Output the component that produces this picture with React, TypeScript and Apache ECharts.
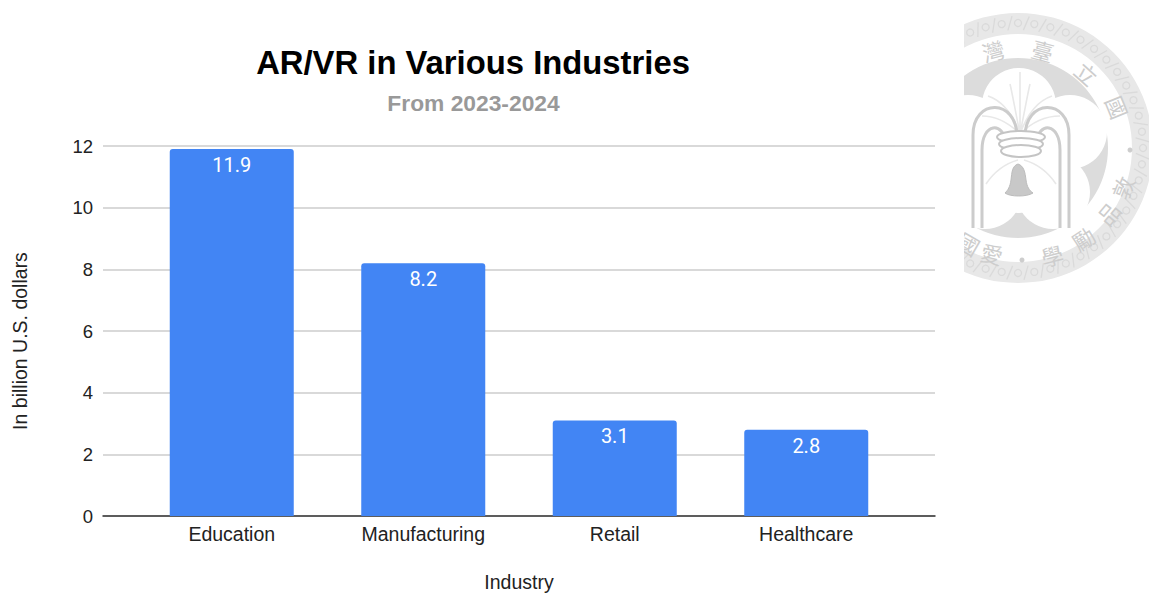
import React, { useEffect, useRef } from "react";
import * as echarts from "echarts";

const categories = ["Education", "Manufacturing", "Retail", "Healthcare"];
const values = [11.9, 8.2, 3.1, 2.8];
const titleText = "AR/VR in Various Industries";
const subtitleText = "From 2023-2024";
const yAxisName = "In billion U.S. dollars";
const xAxisName = "Industry";

// Seal characters: [glyph, x, y, rotation in degrees, counter-clockwise positive]
const sealGlyphs: [string, number, number, number][] = [
  ["灣", 993, 50, 15],
  ["臺", 1043, 50, -15],
  ["立", 1087, 73, -42],
  ["國", 1118, 107, -68],
  ["敦", 1122, 187, 68],
  ["品", 1108, 213, 50],
  ["勵", 1083, 238, 33],
  ["學", 1052, 255, 14],
  ["愛", 992, 253, -14],
  ["國", 969, 243, -30],
];

const SEAL_X = 1018;
const SEAL_Y = 148;

const archPath =
  "M973 228 L973 135 C973 98 1017 98 1017 137 " +
  "M982 228 L982 150 C982 122 1004 122 1005 142 " +
  "M1069 228 L1069 135 C1069 98 1025 98 1025 137 " +
  "M1060 228 L1060 150 C1060 122 1038 122 1037 142";
const bellPath =
  "M1018 164 C1012 166 1012 172 1011 180 C1010 187 1008 190 1005 193 " +
  "C1010 197 1027 197 1033 193 C1029 190 1027 187 1026 180 C1025 172 1024 166 1018 164 Z";
const frondPath =
  "M1020 72 L1020 134 M1020 134 C1012 112 1000 100 988 96 M1020 134 C1028 112 1040 100 1052 96 " +
  "M1020 134 C1008 122 996 116 982 116 M1020 134 C1032 122 1044 116 1060 116 " +
  "M1020 134 C1014 104 1012 92 1010 84 M1020 134 C1026 104 1028 92 1030 84 " +
  "M1018 160 C1004 164 994 172 986 184 M1024 160 C1038 164 1048 172 1056 184";

echarts.graphic.registerShape("sealArchLines", echarts.graphic.extendPath(archPath, {}) as any);
echarts.graphic.registerShape("sealBell", echarts.graphic.extendPath(bellPath, {}) as any);
echarts.graphic.registerShape("sealFronds", echarts.graphic.extendPath(frondPath, {}) as any);

function buildSeal(): any[] {
  const els: any[] = [];
  const lobes = [
    [1019, 105],
    [1070, 132],
    [1053, 192],
    [985, 192],
    [968, 132],
  ];
  els.push({ type: "circle", shape: { cx: SEAL_X, cy: SEAL_Y, r: 135 }, style: { fill: "#e8e8e8" } });
  // spiral band around the rim
  const turns = 48;
  for (let i = 0; i < turns; i++) {
    const a = (i / turns) * Math.PI * 2;
    const cx = SEAL_X + Math.cos(a) * 125;
    const cy = SEAL_Y + Math.sin(a) * 125;
    els.push({
      type: "circle",
      shape: { cx, cy, r: 3.5 },
      style: { fill: "none", stroke: "#dadada", lineWidth: 1.3 },
    });
    const b = a + Math.PI / turns;
    els.push({
      type: "line",
      shape: {
        x1: SEAL_X + Math.cos(b - 0.02) * 118,
        y1: SEAL_Y + Math.sin(b - 0.02) * 118,
        x2: SEAL_X + Math.cos(b + 0.02) * 132,
        y2: SEAL_Y + Math.sin(b + 0.02) * 132,
      },
      style: { stroke: "#dadada", lineWidth: 1.3 },
    });
  }
  els.push({ type: "circle", shape: { cx: SEAL_X, cy: SEAL_Y, r: 114 }, style: { fill: "#ffffff" } });
  els.push({ type: "circle", shape: { cx: SEAL_X, cy: SEAL_Y, r: 90 }, style: { fill: "#dcdcdc" } });
  els.push({ type: "circle", shape: { cx: SEAL_X + 1, cy: 150, r: 63 }, style: { fill: "#ffffff" } });
  lobes.forEach(([cx, cy]) => {
    els.push({ type: "circle", shape: { cx, cy, r: 37 }, style: { fill: "#ffffff" } });
  });
  els.push({ type: "sealFronds", style: { fill: "none", stroke: "#e8e8e8", lineWidth: 1.6 } });
  els.push({ type: "sealArchLines", style: { fill: "none", stroke: "#cccccc", lineWidth: 3 } });
  [137, 144, 151].forEach((cy, i) => {
    els.push({
      type: "ellipse",
      shape: { cx: 1021, cy, rx: 24 - i * 2, ry: 6 },
      style: { fill: "#ffffff", stroke: "#c4c4c4", lineWidth: 2 },
    });
  });
  els.push({ type: "sealBell", style: { fill: "#c8c8c8", stroke: "#bcbcbc", lineWidth: 1 } });
  sealGlyphs.forEach(([text, x, y, deg]) => {
    els.push({
      type: "text",
      x,
      y,
      rotation: (deg * Math.PI) / 180,
      style: {
        text,
        fill: "#cdcdcd",
        font: '22px "Noto Sans CJK TC"',
        align: "center",
        verticalAlign: "middle",
      },
    });
  });
  [
    [1130, 150],
    [1022, 260],
  ].forEach(([cx, cy]) => {
    els.push({ type: "circle", shape: { cx, cy, r: 2.5 }, style: { fill: "#cdcdcd" } });
  });
  // the seal is cut off on its left side; this mask sits below the grid lines
  els.push({ type: "rect", shape: { x: 870, y: 0, width: 94, height: 300 }, style: { fill: "#ffffff" } });
  return els.map((el) => ({ ...el, z: -1 }));
}

export default function App() {
  const ref = useRef<HTMLDivElement>(null);

  useEffect(() => {
    const chart = echarts.init(ref.current!, undefined, { renderer: "svg" });
    const axisFont = { fontFamily: "Liberation Sans", fontSize: 19.5, color: "#222222" };
    chart.setOption({
      animation: false,
      backgroundColor: "#ffffff",
      title: [
        {
          text: titleText,
          left: 468,
          top: 41,
          textAlign: "center",
          textStyle: { fontFamily: "Liberation Sans", fontSize: 32.8, fontWeight: "bold", color: "#000000" },
        },
        {
          text: subtitleText,
          left: 468.5,
          top: 86,
          textAlign: "center",
          textStyle: { fontFamily: "Liberation Sans", fontSize: 22.8, fontWeight: "bold", color: "#999999" },
        },
      ],
      graphic: { elements: buildSeal() },
      grid: [
        { left: 103, width: 832, top: 146, height: 370, outerBoundsMode: "none" },
        { left: 136, width: 766, top: 146, height: 370, outerBoundsMode: "none" },
      ],
      xAxis: [
        {
          type: "value",
          gridIndex: 0,
          min: 0,
          max: 1,
          name: xAxisName,
          nameLocation: "middle",
          nameGap: 56,
          nameTextStyle: axisFont,
          axisLine: { show: true, onZero: false, lineStyle: { color: "#333333", width: 1.5 } },
          axisTick: { show: false },
          axisLabel: { show: false },
          splitLine: { show: false },
        },
        {
          type: "category",
          gridIndex: 1,
          data: categories,
          axisLine: { show: false },
          axisTick: { show: false },
          axisLabel: { ...axisFont, margin: 8 },
        },
      ],
      yAxis: [
        {
          type: "value",
          gridIndex: 0,
          min: 0,
          max: 12,
          interval: 2,
          name: yAxisName,
          nameLocation: "middle",
          nameGap: 73,
          nameTextStyle: { ...axisFont, padding: [0, 20, 0, 0] },
          axisLine: { show: false },
          axisTick: { show: false },
          axisLabel: { ...axisFont, fontSize: 18.5, margin: 10 },
          splitLine: { lineStyle: { color: "#cccccc", width: 1.5 } },
        },
        {
          type: "value",
          gridIndex: 1,
          min: 0,
          max: 12,
          interval: 2,
          show: false,
          splitLine: { show: false },
        },
      ],
      series: [
        {
          type: "bar",
          xAxisIndex: 1,
          yAxisIndex: 1,
          data: values,
          barWidth: 124,
          itemStyle: { color: "#4285f4", borderRadius: [3, 3, 0, 0] },
          label: {
            show: true,
            position: "insideTop",
            distance: 6,
            color: "#ffffff",
            fontFamily: "Roboto",
            fontSize: 20,
            formatter: (p: any) => p.value.toFixed(1),
          },
        },
      ],
    });
    return () => chart.dispose();
  }, []);

  return <div ref={ref} style={{ position: "absolute", left: 0, top: 0, width: 1149, height: 593 }} />;
}
